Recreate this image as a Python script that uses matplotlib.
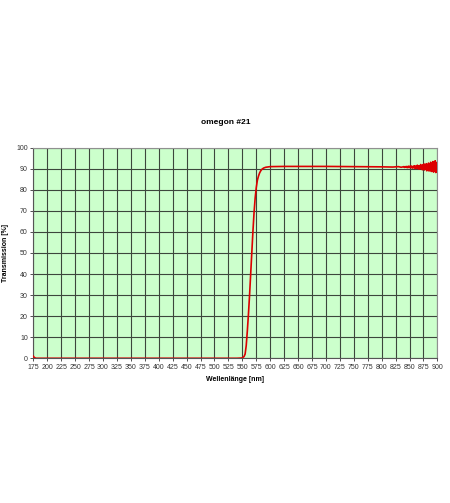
import matplotlib.pyplot as plt

# wavelength [nm] and transmission [%]
wavelength = [175, 177, 180, 200, 250, 300, 350, 400, 450, 500, 540, 548,
              550, 553, 555, 557, 559, 561, 563, 565, 567, 569, 571, 573,
              575, 577, 579, 581, 583, 585, 588, 592, 600, 625, 650, 700,
              750, 800, 820, 830, 835,
              840, 841, 842, 843, 844, 845, 846, 847, 848, 849,
              850, 851, 852, 853, 854, 855, 856, 857, 858, 859,
              860, 861, 862, 863, 864, 865, 866, 867, 868, 869,
              870, 871, 872, 873, 874, 875, 876, 877, 878, 879,
              880, 881, 882, 883, 884, 885, 886, 887, 888, 889,
              890, 891, 892, 893, 894, 895, 896, 897, 898, 899, 900]
transmission = [1.0, 0.3, 0.0, 0.0, 0.0, 0.0, 0.0, 0.0, 0.0, 0.0, 0.0, 0.1,
                0.2, 0.8, 2.0, 6.0, 13.0, 21.0, 30.0, 40.0, 50.0, 60.0, 69.0, 76.0,
                81.0, 84.5, 86.5, 88.0, 89.0, 89.7, 90.3, 90.7, 91.0, 91.1, 91.1, 91.1,
                91.0, 90.9, 90.8, 91.0, 90.7,
                91.0, 90.6, 90.9, 90.7, 91.1, 90.6, 91.0, 90.5, 91.2, 90.7,
                91.1, 90.5, 91.3, 90.6, 91.2, 90.3, 91.0, 90.5, 91.4, 90.4,
                91.3, 90.0, 91.2, 90.4, 91.7, 90.1, 91.4, 89.8, 91.2, 90.2,
                92.0, 89.9, 91.5, 89.5, 91.9, 90.0, 92.3, 89.4, 91.6, 89.9,
                92.4, 89.0, 91.8, 89.6, 92.7, 88.9, 92.0, 89.3, 93.1, 88.7,
                92.3, 89.1, 93.4, 88.4, 92.6, 89.0, 93.8, 88.2, 93.0, 88.6, 92.5]

x_ticks = list(range(175, 901, 25))
y_ticks = list(range(0, 101, 10))

plt.rcParams['font.family'] = ['Liberation Sans', 'DejaVu Sans']

fig = plt.figure(figsize=(4.5, 5.03), dpi=100)
ax = fig.add_axes([0.074, 0.2877, 0.898, 0.4187])
ax.set_facecolor('#ccffcc')

ax.plot(wavelength, transmission, color='#dd0000', lw=1.2, zorder=3)

ax.set_xlim(175, 900)
ax.set_ylim(0, 100)
ax.set_xticks(x_ticks)
ax.set_yticks(y_ticks)
ax.tick_params(labelsize=5, length=2, width=0.6, pad=2, colors='#333333')
ax.grid(True, color='#3c463c', lw=0.8)
ax.set_axisbelow(True)
for s in ax.spines.values():
    s.set_color('#909090')
    s.set_linewidth(0.8)
ax.spines['left'].set_color('#555555')
ax.spines['bottom'].set_color('#555555')

ax.set_title('omegon #21', fontsize=6, fontweight='bold', pad=17, x=0.476)
ax.set_xlabel('Wellenlänge [nm]', fontsize=5, fontweight='bold', labelpad=4)
ax.set_ylabel('Transmission [%]', fontsize=5, fontweight='bold', labelpad=5)

fig.savefig('out.png', dpi=100)
